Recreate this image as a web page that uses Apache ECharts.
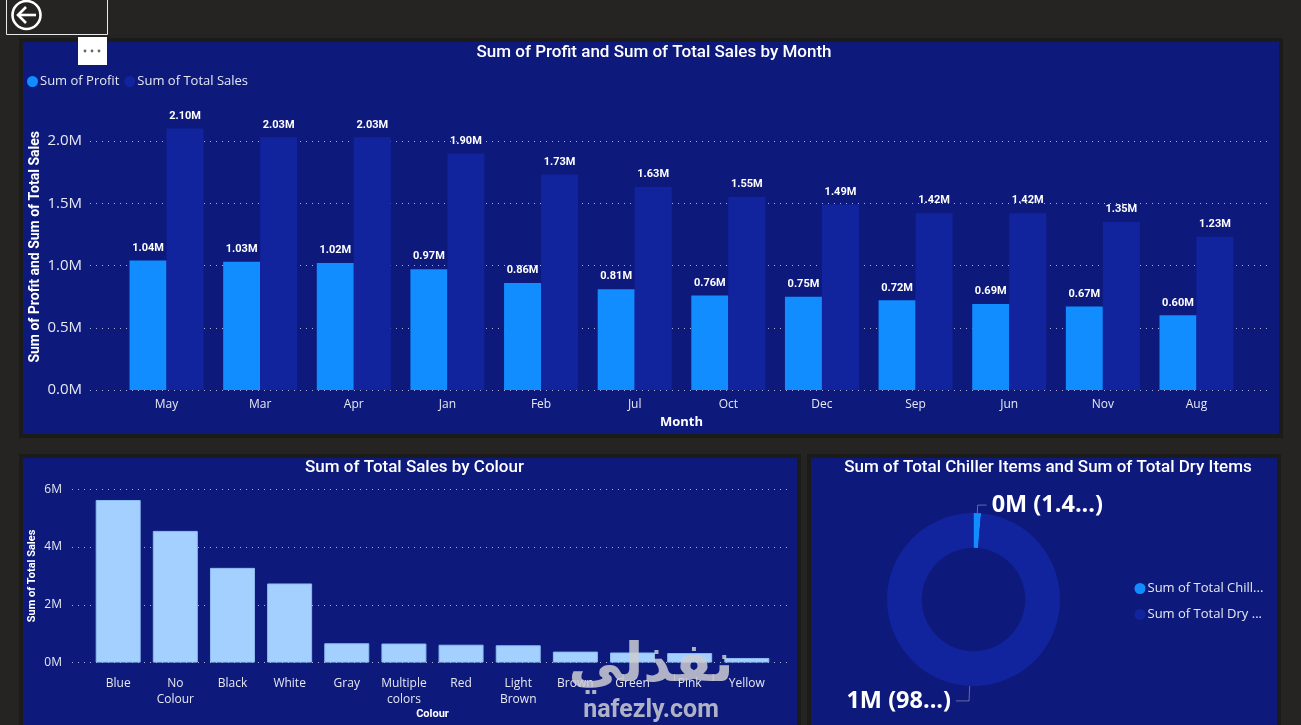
<!DOCTYPE html>
<html><head><meta charset="utf-8">
<style>html,body{margin:0;padding:0;background:#252423}#c{width:1301px;height:725px}</style>
<script src="https://cdn.jsdelivr.net/npm/echarts@6/dist/echarts.min.js"></script>
</head><body><div id="c"></div>
<script>
const months = ['May','Mar','Apr','Jan','Feb','Jul','Oct','Dec','Sep','Jun','Nov','Aug'];
const profit = [1.04,1.03,1.02,0.97,0.86,0.81,0.76,0.75,0.72,0.69,0.67,0.60];
const totalSales = [2.10,2.03,2.03,1.90,1.73,1.63,1.55,1.49,1.42,1.42,1.35,1.23];
const colours = ['Blue','No\nColour','Black','White','Gray','Multiple\ncolors','Red','Light\nBrown','Brown','Green','Pink','Yellow'];
const colourSales = [5.63,4.56,3.28,2.74,0.67,0.66,0.62,0.60,0.38,0.35,0.33,0.16];
const donutNames = ['Sum of Total Chiller Items','Sum of Total Dry Items'];
const donutLegend = ['Sum of Total Chill...','Sum of Total Dry ...'];
const donutLabels = ['0M (1.4...)','1M (98...)'];
const donutShare = [1.4,98.6];

const BODY='"Open Sans","Noto Sans",sans-serif', HEAD='Roboto,sans-serif';
const TXT='#e6e8f2', PANEL='#0d1a7c', BLUE='#118DFF', NAVY='#12239E';
const dots={show:true,lineStyle:{color:'rgba(225,230,245,.75)',type:[1,5],width:1}};
const panel=(x,y,w,h)=>({type:'rect',z:-10,shape:{x,y,width:w,height:h},style:{fill:PANEL,stroke:'#1b1b1a',lineWidth:4}});
const title=(text,cx,top)=>({text,left:cx,top,padding:0,textAlign:'center',textStyle:{color:'#fff',fontFamily:HEAD,fontWeight:500,fontSize:17}});
const hiddenX=(gridIndex)=>({type:'value',gridIndex,min:0,max:1,show:false});
const hiddenY=(gridIndex,max,interval)=>({type:'value',gridIndex,min:0,max,interval,show:false,splitLine:{show:false}});

const chart=echarts.init(document.getElementById('c'),null,{renderer:'canvas'});
chart.setOption({
  animation:false,
  backgroundColor:'#252423',
  title:[title('Sum of Profit and Sum of Total Sales by Month',654,44),
         title('Sum of Total Sales by Colour',414.5,459),
         title('Sum of Total Chiller Items and Sum of Total Dry Items',1048,459)],
  legend:[
    {left:22,top:70,itemWidth:11,itemHeight:11,itemGap:5,icon:'circle',data:['Sum of Profit','Sum of Total Sales'],
     textStyle:{color:TXT,fontFamily:BODY,fontSize:13,padding:[0,0,0,-3]}},
    {left:1129.5,top:577,orient:'vertical',itemWidth:11,itemHeight:11,itemGap:13,icon:'circle',data:donutNames,
     formatter:n=>donutLegend[donutNames.indexOf(n)],
     textStyle:{color:TXT,fontFamily:BODY,fontSize:13,padding:[0,0,0,-3]}}
  ],
  grid:[
    {left:90,width:1180,top:103.65,height:286.35},
    {left:119.7,width:1123.6,top:103.65,height:286.35},
    {left:72,width:717,top:489.3,height:173.3},
    {left:89.6,width:685.8,top:489.3,height:173.3}
  ],
  xAxis:[
    hiddenX(0),
    {type:'category',gridIndex:1,data:months,axisLine:{show:false},axisTick:{show:false},
     axisLabel:{color:TXT,fontFamily:BODY,fontSize:12,margin:9},
     name:'Month',nameLocation:'middle',nameGap:26,nameTextStyle:{color:'#fff',fontFamily:BODY,fontWeight:'bold',fontSize:13}},
    hiddenX(2),
    {type:'category',gridIndex:3,data:colours,axisLine:{show:false},axisTick:{show:false},
     axisLabel:{color:TXT,fontFamily:BODY,fontSize:12,margin:13,lineHeight:16,interval:0},
     name:'Colour',nameLocation:'middle',nameGap:45,nameTextStyle:{color:'#fff',fontFamily:HEAD,fontWeight:'bold',fontSize:11}}
  ],
  yAxis:[
    {type:'value',gridIndex:0,min:0,max:2.3,interval:0.5,axisLine:{show:false},axisTick:{show:false},
     splitLine:{...dots,showMaxLine:false},
     axisLabel:{color:TXT,fontFamily:BODY,fontSize:15,margin:8,showMaxLabel:false,formatter:v=>v.toFixed(1)+'M'},
     name:'Sum of Profit and Sum of Total Sales',nameLocation:'middle',nameGap:48,nameMoveOverlap:false,
     nameTextStyle:{color:'#fff',fontFamily:HEAD,fontWeight:'bold',fontSize:14}},
    hiddenY(1,2.3,0.5),
    {type:'value',gridIndex:2,min:0,max:6,interval:2,axisLine:{show:false},axisTick:{show:false},
     splitLine:dots,
     axisLabel:{color:TXT,fontFamily:BODY,fontSize:12,margin:10,formatter:v=>v+'M'},
     name:'Sum of Total Sales',nameLocation:'middle',nameGap:34,nameMoveOverlap:false,
     nameTextStyle:{color:'#fff',fontFamily:HEAD,fontWeight:'bold',fontSize:11}},
    hiddenY(3,6,2)
  ],
  series:[
    {name:'Sum of Profit',type:'bar',xAxisIndex:1,yAxisIndex:1,data:profit,barWidth:37,barGap:0,
     itemStyle:{color:BLUE},
     label:{show:true,position:'top',distance:7,color:'#fff',fontFamily:HEAD,fontWeight:'bold',fontSize:11,formatter:p=>p.value.toFixed(2)+'M'}},
    {name:'Sum of Total Sales',type:'bar',xAxisIndex:1,yAxisIndex:1,data:totalSales,barWidth:37,barGap:0,
     itemStyle:{color:NAVY},
     label:{show:true,position:'top',distance:7,color:'#fff',fontFamily:HEAD,fontWeight:'bold',fontSize:11,formatter:p=>p.value.toFixed(2)+'M'}},
    {name:'Sum of Total Sales by Colour',type:'bar',xAxisIndex:3,yAxisIndex:3,data:colourSales,barWidth:45,
     itemStyle:{color:'#A4D0FF',borderColor:'#8dbbf0',borderWidth:1}},
    {name:'Chiller and Dry',type:'pie',center:[973.5,599.5],radius:[51.7,86.5],startAngle:90,clockwise:true,
     data:donutNames.map((n,i)=>({name:n,value:donutShare[i],itemStyle:{color:[BLUE,NAVY][i]},labelLine:{length:[8,15][i],length2:[9,13][i]}})),
     label:{show:true,color:'#fff',fontFamily:'"Open Sans",sans-serif',fontWeight:'bold',fontSize:23.5,
       formatter:p=>donutLabels[p.dataIndex]},
     labelLine:{show:true,lineStyle:{color:'rgba(200,205,225,.45)',width:1}},
     emphasis:{disabled:true}}
  ],
  graphic:[
    panel(21,40,1260,396),
    panel(21,456,778,272),
    panel(809,456,470,272),
    {type:'rect',z:5,shape:{x:6.5,y:-2,width:101,height:36.5},style:{fill:'transparent',stroke:'#e8e8e8',lineWidth:1}},
    {type:'circle',z:5,shape:{cx:26.5,cy:15,r:14},style:{fill:'transparent',stroke:'#fff',lineWidth:2.6}},
    {type:'polyline',z:5,shape:{points:[[36,15],[18,15]]},style:{stroke:'#fff',lineWidth:2.6,fill:'none'}},
    {type:'polyline',z:5,shape:{points:[[26,7],[18,15],[26,23]]},style:{stroke:'#fff',lineWidth:2.6,fill:'none'}},
    {type:'rect',z:5,shape:{x:78,y:37,width:29,height:28},style:{fill:'#fff'}},
    {type:'circle',z:6,shape:{cx:85,cy:51,r:1.4},style:{fill:'#666'}},
    {type:'circle',z:6,shape:{cx:92,cy:51,r:1.4},style:{fill:'#666'}},
    {type:'circle',z:6,shape:{cx:99,cy:51,r:1.4},style:{fill:'#666'}},
    {type:'text',z:20,x:651,y:667,style:{text:'نفذلي',align:'center',verticalAlign:'middle',font:'bold 54px "DejaVu Sans"',fill:'rgba(205,205,212,.85)'}},
    {type:'text',z:20,x:651,y:711,style:{text:'nafezly.com',align:'center',verticalAlign:'middle',font:'bold 25px Roboto',fill:'rgba(205,205,212,.85)'}}
  ]
});
</script></body></html>
